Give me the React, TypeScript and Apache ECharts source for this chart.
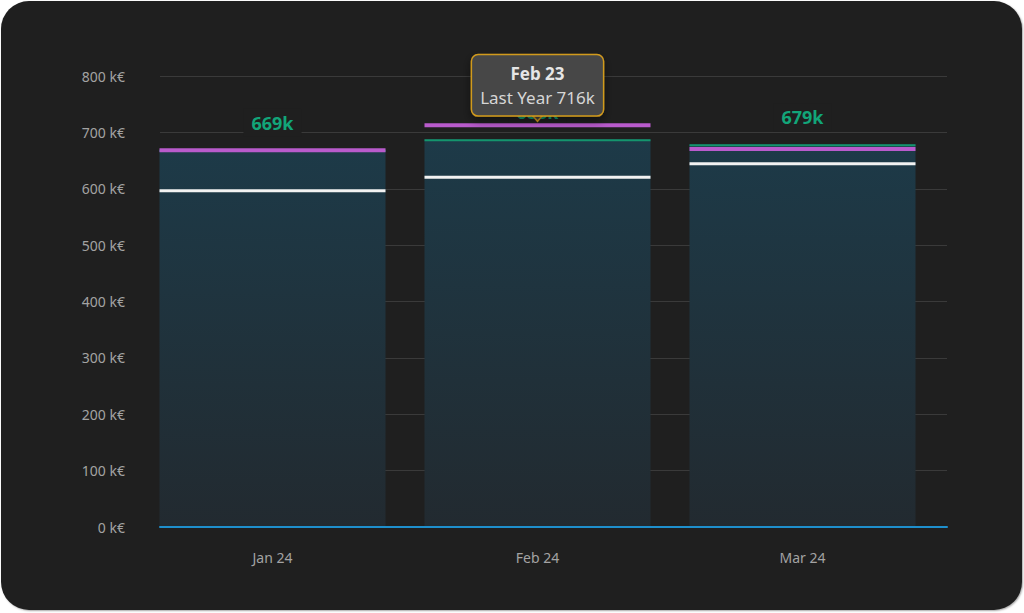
import { useEffect, useRef } from "react";
import * as echarts from "echarts";

const categories = ["Jan 24", "Feb 24", "Mar 24"];
const lastYearLabels = ["Jan 23", "Feb 23", "Mar 23"];
const current = [669, 688, 679];
const lastYear = [672, 716, 674];
const target = [599, 623, 647];
const yTicks = [0, 100, 200, 300, 400, 500, 600, 700, 800];

const FONT = "'Noto Sans', sans-serif";
const CARD_BG = "#1f1f1f";
const BAR_W = 226;

function lineSeries(name: string, values: number[], color: string, thickness: number, z: number) {
  return {
    name,
    type: "custom",
    xAxisIndex: 1,
    yAxisIndex: 1,
    z,
    silent: true,
    encode: { x: 0, y: 1 },
    data: values.map((v, i) => [i, v]),
    renderItem: (_params: any, api: any) => {
      const pt = api.coord([api.value(0), api.value(1)]);
      return {
        type: "rect",
        shape: { x: pt[0] - BAR_W / 2, y: pt[1], width: BAR_W, height: thickness },
        style: { fill: color },
      };
    },
  };
}

export default function App() {
  const chartRef = useRef<HTMLDivElement>(null);

  useEffect(() => {
    document.body.style.margin = "0";
    const el = chartRef.current;
    if (!el) return;
    const chart = echarts.init(el, undefined, { renderer: "svg" });

    const tipIndex = 1;
    const option: echarts.EChartsOption = {
      animation: false,
      textStyle: { fontFamily: FONT },
      grid: [
        { left: 160, right: 77, top: 76, bottom: 86 },
        { left: 140, right: 89, top: 76, bottom: 86 },
      ],
      xAxis: [
        {
          type: "category",
          gridIndex: 0,
          z: 10,
          data: categories,
          axisLine: { lineStyle: { color: "#1e8fcc", width: 2 } },
          axisTick: { show: false },
          axisLabel: { show: false },
        },
        {
          type: "category",
          gridIndex: 1,
          data: categories,
          axisLine: { show: false },
          axisTick: { show: false },
          axisLabel: { color: "#a3a3a3", fontSize: 14, margin: 23, fontFamily: FONT },
        },
      ],
      yAxis: [
        {
          type: "value",
          gridIndex: 0,
          min: yTicks[0],
          max: yTicks[yTicks.length - 1],
          interval: 100,
          axisLine: { show: false },
          axisTick: { show: false },
          axisLabel: {
            color: "#a3a3a3",
            fontSize: 14,
            margin: 35,
            fontFamily: FONT,
            formatter: (v: number) => `${v} k€`,
          },
          splitLine: { lineStyle: { color: "#3a3a3a", width: 1 } },
        },
        {
          type: "value",
          gridIndex: 1,
          min: yTicks[0],
          max: yTicks[yTicks.length - 1],
          interval: 100,
          show: false,
          splitLine: { show: false },
        },
      ],
      series: [
        {
          name: "Current",
          type: "bar",
          xAxisIndex: 1,
          yAxisIndex: 1,
          barWidth: BAR_W,
          z: 2,
          data: current,
          itemStyle: {
            color: new echarts.graphic.LinearGradient(0, 0, 0, 1, [
              { offset: 0, color: "#1d3a48" },
              { offset: 1, color: "#222a30" },
            ]),
          },
          label: {
            show: true,
            position: "top",
            distance: 13,
            formatter: (p: any) => `${p.value}k`,
            color: "#12a579",
            fontSize: 18,
            fontWeight: "bold",
            fontFamily: FONT,
            backgroundColor: CARD_BG,
            padding: [5, 8],
          },
          markPoint: {
            z: 20,
            symbol: "triangle",
            symbolSize: [14, 8],
            symbolRotate: 180,
            symbolOffset: [0, -6],
            itemStyle: { color: "#474747", borderColor: "#d19a1e", borderWidth: 1.5 },
            label: {
              show: true,
              position: "inside",
              offset: [0, -32],
              formatter: `{t|${lastYearLabels[tipIndex]}}\n{v|Last Year ${lastYear[tipIndex]}k}`,
              backgroundColor: "#474747",
              borderColor: "#d19a1e",
              borderWidth: 1.5,
              borderRadius: 6,
              padding: [6, 8],
              shadowColor: "rgba(0,0,0,0.45)",
              shadowBlur: 10,
              shadowOffsetY: 4,
              rich: {
                t: { color: "#e6e6e6", fontSize: 17, fontWeight: "bold", lineHeight: 24, fontFamily: FONT, align: "center" },
                v: { color: "#d6d6d6", fontSize: 17, lineHeight: 24, fontFamily: FONT, align: "center" },
              },
            },
            data: [{ coord: [tipIndex, lastYear[tipIndex]], value: lastYear[tipIndex] }],
          },
        } as any,
        lineSeries("Current top", current, "#14956d", 2, 3),
        lineSeries("Target", target, "#f2f2f2", 3, 4),
        lineSeries("Last Year", lastYear, "#b95bcc", 4, 5),
      ],
    };

    chart.setOption(option);
    return () => chart.dispose();
  }, []);

  return (
    <div style={{ position: "relative", width: 1024, height: 613, background: "#ffffff", overflow: "hidden" }}>
      <div
        style={{
          position: "absolute",
          left: 1,
          top: 1,
          width: 1021,
          height: 609,
          borderRadius: 28,
          background: CARD_BG,
          boxShadow: "1px 1px 2px rgba(0,0,0,0.35)",
        }}
      />
      <div ref={chartRef} style={{ position: "absolute", left: 0, top: 0, width: 1024, height: 613 }} />
    </div>
  );
}
